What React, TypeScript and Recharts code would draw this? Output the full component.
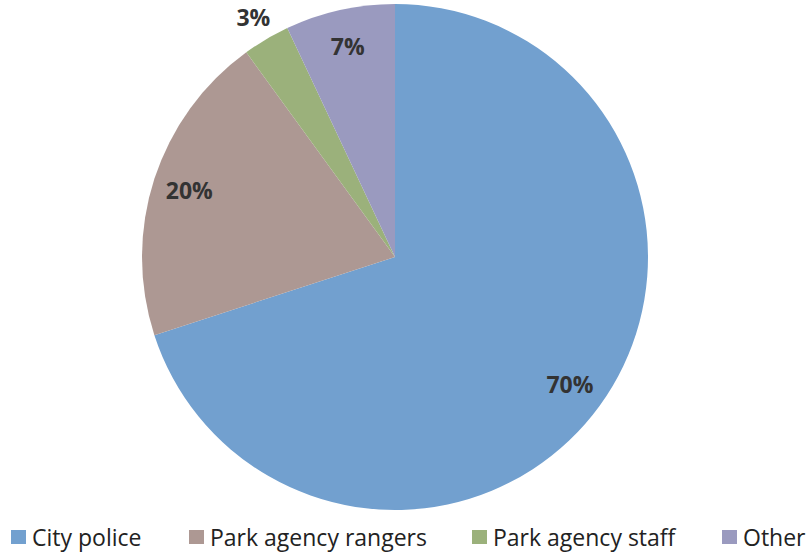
import { PieChart, Pie, Cell, Legend } from 'recharts';

const categories = ['City police', 'Park agency rangers', 'Park agency staff', 'Other'];
const shares = [70, 20, 3, 7];
const colors = ['#72a0cf', '#ad9893', '#9bb17b', '#9a9abf'];

const data = categories.map((name, i) => ({ name, value: shares[i] }));

// left edge of each legend swatch
const legendLeft = [11, 189, 472, 722];

const RADIAN = Math.PI / 180;

const renderLabel = (props: any) => {
  const { cx, cy, midAngle, outerRadius, percent, value } = props;
  // small slices sit outside the pie
  const r = percent < 0.05 ? outerRadius * 1.1 : outerRadius * 0.855;
  const x = cx + r * Math.cos(-midAngle * RADIAN);
  const y = cy + r * Math.sin(-midAngle * RADIAN);
  return (
    <text
      x={x}
      y={y}
      fill="#333"
      textAnchor="middle"
      dominantBaseline="central"
      fontSize={23}
      fontWeight="bold"
      fontFamily="'Open Sans', sans-serif"
    >
      {value}%
    </text>
  );
};

const renderLegend = () => (
  <div style={{ position: 'relative', height: 32, fontFamily: "'Open Sans', sans-serif", fontSize: 23, color: '#222' }}>
    {categories.map((c, i) => (
      <div key={c} style={{ position: 'absolute', left: legendLeft[i], top: 0, display: 'flex', alignItems: 'center', height: 32, whiteSpace: 'nowrap' }}>
        <span style={{ width: 15, height: 14, background: colors[i], display: 'inline-block', marginRight: 6 }} />
        <span>{c}</span>
      </div>
    ))}
  </div>
);

export default function App() {
  return (
    <div style={{ position: 'absolute', left: 0, top: 0, background: '#fff' }}>
      <PieChart width={809} height={552} margin={{ top: 0, right: 0, bottom: 0, left: 0 }}>
        <Pie
          data={data}
          dataKey="value"
          nameKey="name"
          cx={395}
          cy={257}
          outerRadius={253}
          startAngle={90}
          endAngle={-270}
          stroke="none"
          labelLine={false}
          label={renderLabel}
          isAnimationActive={false}
        >
          {data.map((d, i) => (
            <Cell key={d.name} fill={colors[i]} />
          ))}
        </Pie>
        <Legend
          verticalAlign="bottom"
          align="left"
          content={renderLegend}
          wrapperStyle={{ left: 0, top: 521, width: 809 }}
        />
      </PieChart>
    </div>
  );
}
